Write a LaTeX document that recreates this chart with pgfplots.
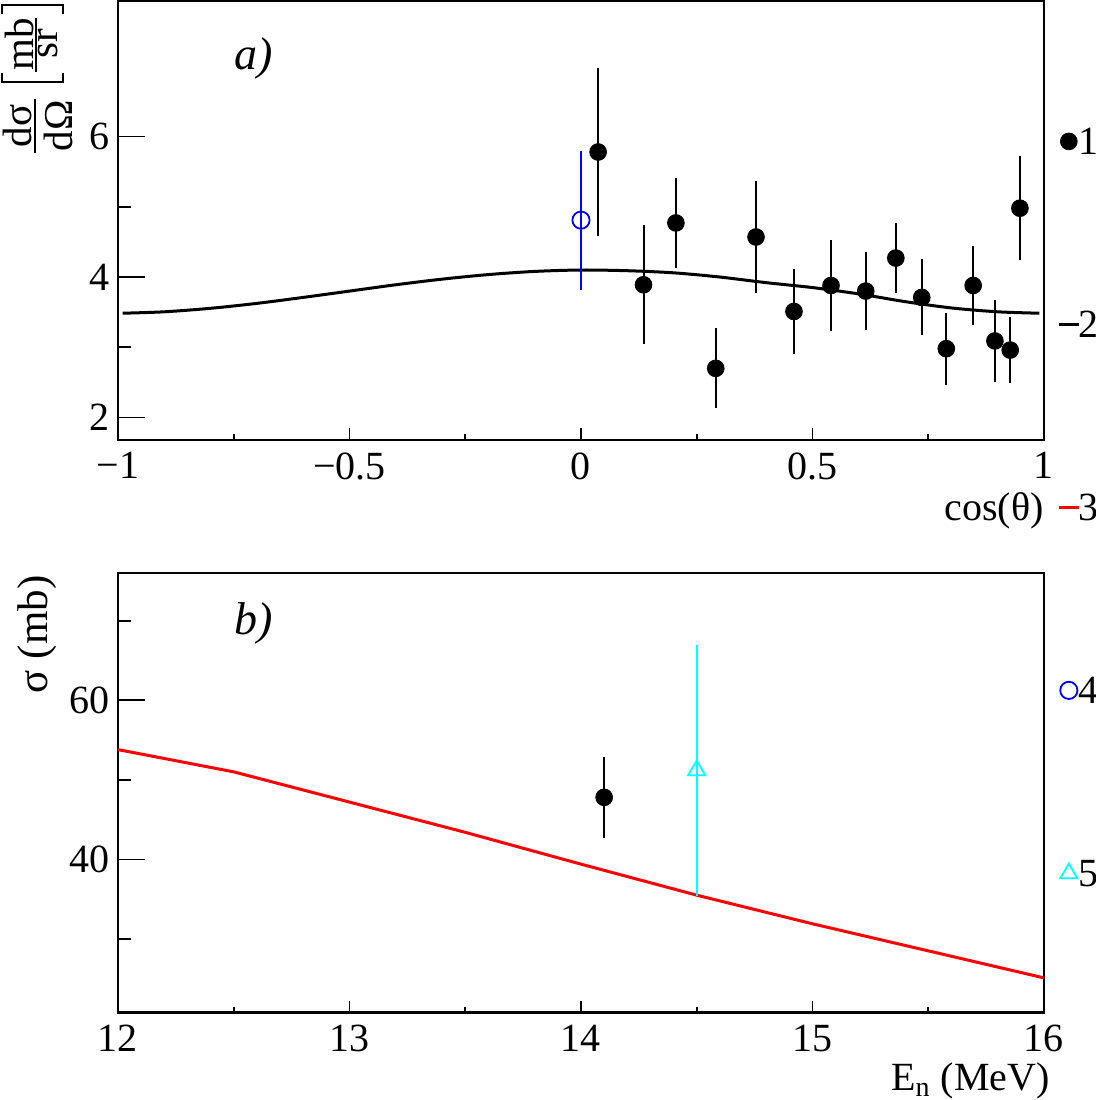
\documentclass[border=0pt]{standalone}
\usepackage{pgfplots}
\pgfplotsset{compat=1.18}
\usepackage{fontspec}
\setmainfont{Liberation Serif}

\definecolor{rootcyan}{RGB}{0,255,255}
\definecolor{rootblue}{RGB}{0,0,255}
\definecolor{rootred}{RGB}{255,0,0}

\newcommand{\bigfont}{\fontsize{20}{24}\selectfont}

% measured angular distribution: cos(theta), dsigma/dOmega, error
\pgfplotstableread{
x      y     e
0.037  5.78  1.19
0.135  3.89  0.85
0.205  4.77  0.64
0.291  2.70  0.57
0.378  4.57  0.80
0.460  3.51  0.60
0.540  3.88  0.65
0.615  3.80  0.56
0.680  4.27  0.50
0.736  3.71  0.54
0.789  2.98  0.51
0.847  3.88  0.56
0.894  3.09  0.58
0.927  2.96  0.47
0.948  4.98  0.74
}\angdata

\pgfplotsset{
  rootaxis/.style={
    scale only axis,
    width=463pt,
    axis line style={line width=1.1pt},
    tick align=inside,
    xtick pos=bottom, ytick pos=left,
    tick style={line width=0.8pt, black},
    xtick style={/pgfplots/major tick length=6pt,/pgfplots/minor tick length=3pt},
    ytick style={/pgfplots/major tick length=13.5pt,/pgfplots/minor tick length=6.5pt},
    minor tick num=1,
    tick label style={font=\bigfont, inner sep=0pt},
    xticklabel style={yshift=-6pt},
    yticklabel style={xshift=-4pt},
    label style={font=\bigfont, inner sep=0pt},
    /pgf/number format/assume math mode=true,
  },
  keyimg/.style={legend image code/.code={\draw[mark repeat=2,mark phase=2,##1] plot coordinates {(0pt,0pt) (5pt,0pt) (10pt,0pt)};}},
}

\begin{document}
\begin{tikzpicture}
\path[use as bounding box] (0,0) rectangle (548pt,550pt);

% ---- a) angular distribution ----
\begin{axis}[rootaxis,
  at={(59pt,330pt)}, anchor=south west, height=219.5pt,
  xmin=-1, xmax=1, ymin=1.68, ymax=7.93,
  xtick={-1,-0.5,0,0.5,1}, xticklabels={−1,−0.5,0,0.5,1},
  ytick={2,4,6},
  xlabel={cos(θ)},
  xlabel style={at={(rel axis cs:1,0)}, anchor=base east, yshift=-40pt},
]
\addplot[black, line width=1.5pt, smooth] coordinates {
  (-0.99,3.485) (-0.9,3.505) (-0.8,3.555) (-0.7,3.625) (-0.6,3.71) (-0.5,3.80)
  (-0.4,3.89) (-0.3,3.97) (-0.2,4.035) (-0.1,4.08) (0,4.10) (0.1,4.09)
  (0.2,4.06) (0.3,4.00) (0.4,3.92) (0.5,3.85) (0.6,3.76) (0.7,3.65)
  (0.8,3.56) (0.9,3.505) (0.99,3.485)};
\addplot[only marks, rootblue, mark=o, mark size=4.3pt, mark options={line width=0.9pt, fill=white},
  error bars/.cd, y dir=both, y explicit, error mark=none,
  error bar style={line width=0.9pt, rootblue}]
  coordinates {(0,4.81) +- (0,0.99)};
\addplot[only marks, black, mark=*, mark size=4.2pt,
  error bars/.cd, y dir=both, y explicit, error mark=none,
  error bar style={line width=1pt, black}]
  table[x=x, y=y, y error=e] {\angdata};
\node[anchor=base west, font=\fontsize{23}{26}\selectfont\itshape] at (rel axis cs:0.118,0.845) {a)};
\end{axis}

% ---- b) energy dependence ----
\begin{axis}[rootaxis,
  at={(59pt,43.75pt)}, anchor=south west, height=219.75pt,
  xmin=12, xmax=16, ymin=20.75, ymax=76,
  xtick={12,13,14,15,16},
  ytick={20,40,60,80},
  xlabel={E\textsubscript{n} (MeV)},
  xlabel style={at={(rel axis cs:1,0)}, anchor=base east, xshift=3pt, yshift=-39pt},
  ylabel={σ (mb)},
  ylabel style={at={(rel axis cs:-0.0659,0.995)}, anchor=south east, font=\fontsize{21.5}{24}\selectfont},
  legend style={at={(rel axis cs:1.014,2.0137)}, anchor=north west, draw=none, fill=none,
    inner sep=0pt, row sep=78pt, column sep=-1pt, font=\bigfont,
    nodes={inner sep=0pt, text height=13.5pt, text depth=0pt}},
  legend cell align=left,
]
\addplot[rootred, line width=1.5pt, forget plot] coordinates {
  (12,53.8) (12.5,51.0) (13,47.2) (13.5,43.4) (14,39.4) (14.5,35.5)
  (15,31.9) (15.5,28.5) (16,25.1)};
\addplot[only marks, black, mark=*, mark size=4.2pt, forget plot,
  error bars/.cd, y dir=both, y explicit, error mark=none,
  error bar style={line width=1pt, black}]
  coordinates {(14.1,47.8) +- (0,5.1)};
\addplot[only marks, rootcyan, mark=triangle, mark size=4.9pt, mark options={line width=0.9pt, fill=white}, forget plot,
  error bars/.cd, y dir=both, y explicit, error mark=none,
  error bar style={line width=0.9pt, rootcyan}]
  coordinates {(14.5,51.2) +- (0,15.8)};

\addlegendimage{only marks, black, mark=*, mark size=4.2pt, keyimg}
\addlegendentry{1}
\addlegendimage{black, line width=1.5pt, keyimg}
\addlegendentry{2}
\addlegendimage{rootred, line width=1.5pt, keyimg}
\addlegendentry{3}
\addlegendimage{only marks, rootblue, mark=o, mark size=4.3pt, mark options={line width=0.9pt}, keyimg}
\addlegendentry{4}
\addlegendimage{only marks, rootcyan, mark=triangle, mark size=4.9pt, mark options={line width=0.9pt}, keyimg}
\addlegendentry{5}
\node[anchor=base west, font=\fontsize{23}{26}\selectfont\itshape] at (rel axis cs:0.118,0.861) {b)};
\end{axis}

% y-axis title of panel a): d sigma / d Omega [mb/sr], set vertically
\begin{scope}[every node/.style={rotate=90, anchor=base, inner sep=0pt, font=\fontsize{20.5}{24}\selectfont}]
  \node at (15.85pt,487pt) {dσ};
  \node at (36pt,487pt) {dΩ};
  \draw[line width=1.1pt] (17.6pt,500.5pt) -- (17.6pt,473.5pt);
  \node at (16.6pt,528pt) {mb};
  \node at (28.6pt,528pt) {sr};
  \draw[line width=1.1pt] (18pt,541pt) -- (18pt,514pt);
  \draw[line width=0.8pt] (0.9pt,543pt) -- (0.9pt,547.6pt) -- (31.5pt,547.6pt) -- (31.5pt,543pt);
  \draw[line width=0.8pt] (0.9pt,513.5pt) -- (0.9pt,509pt) -- (31.5pt,509pt) -- (31.5pt,513.5pt);
\end{scope}
\end{tikzpicture}
\end{document}
